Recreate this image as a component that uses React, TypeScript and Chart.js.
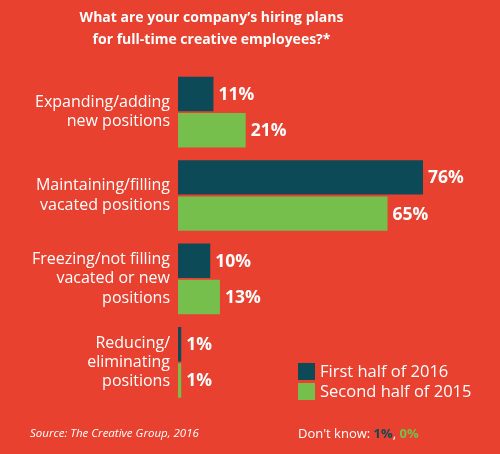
import { Chart, registerables, type Plugin } from 'chart.js';
import { useEffect, useRef } from 'react';

Chart.register(...registerables);

const categories = [
  ['Expanding/adding', 'new positions'],
  ['Maintaining/filling', 'vacated positions'],
  ['Freezing/not filling', 'vacated or new', 'positions'],
  ['Reducing/', 'eliminating', 'positions'],
];
const firstHalf2016 = [11, 76, 10, 1];
const secondHalf2015 = [21, 65, 13, 1];
const seriesNames = ['First half of 2016', 'Second half of 2015'];

const BG = '#E8412F';
const DARK = '#0D4A57';
const GREEN = '#76BF4C';
const FONT = '"Open Sans", sans-serif';

const valueLabels: Plugin<'bar'> = {
  id: 'valueLabels',
  afterDatasetsDraw(chart) {
    const { ctx } = chart;
    ctx.save();
    ctx.fillStyle = '#fff';
    ctx.font = `bold 17.5px ${FONT}`;
    ctx.textBaseline = 'middle';
    chart.data.datasets.forEach((ds, i) => {
      chart.getDatasetMeta(i).data.forEach((bar, j) => {
        ctx.fillText(`${ds.data[j]}%`, bar.x + 5, bar.y + 1);
      });
    });
    ctx.restore();
  },
};

const legendBox: Plugin<'bar'> = {
  id: 'legendBox',
  afterDraw(chart) {
    const { ctx } = chart;
    ctx.save();
    ctx.font = `16.5px ${FONT}`;
    ctx.textBaseline = 'middle';
    [DARK, GREEN].forEach((c, i) => {
      const y = 363 + i * 20;
      ctx.fillStyle = c;
      ctx.fillRect(298, y, 17, 17);
      ctx.fillStyle = '#fff';
      ctx.fillText(seriesNames[i], 320, y + 9);
    });
    ctx.restore();
  },
};

export default function App() {
  const canvasRef = useRef<HTMLCanvasElement>(null);
  const chartRef = useRef<Chart<'bar'> | null>(null);

  useEffect(() => {
    if (!canvasRef.current) return;
    const context = canvasRef.current.getContext('2d');
    if (!context) return;

    chartRef.current = new Chart(context, {
      type: 'bar',
      data: {
        labels: categories,
        datasets: [
          { label: seriesNames[0], data: firstHalf2016, backgroundColor: DARK },
          { label: seriesNames[1], data: secondHalf2015, backgroundColor: GREEN },
        ],
      },
      options: {
        indexAxis: 'y',
        animation: false,
        responsive: false,
        layout: { padding: { top: 2, bottom: 50, right: 77 } },
        datasets: { bar: { categoryPercentage: 0.87, barPercentage: 0.95 } },
        scales: {
          x: { display: false, min: 0, max: 76 },
          y: {
            grid: { display: false },
            border: { display: false },
            ticks: {
              color: '#fff',
              font: { family: FONT, size: 16, lineHeight: 1.2 },
              padding: 0,
            },
            afterFit(scale) {
              scale.width = 178;
            },
          },
        },
        plugins: {
          legend: { display: false },
          tooltip: { enabled: false },
          title: {
            display: true,
            text: ['What are your company\u2019s hiring plans', 'for full-time creative employees?*'],
            color: '#fff',
            font: { family: FONT, size: 14, weight: 'bold', lineHeight: 1.55 },
            padding: { top: 5, bottom: 20 },
          },
        },
      },
      plugins: [valueLabels, legendBox],
    });

    return () => {
      chartRef.current?.destroy();
    };
  }, []);

  return (
    <div style={{ position: 'fixed', top: 0, left: 0, width: 500, height: 454, background: BG, fontFamily: FONT }}>
      <canvas ref={canvasRef} width={500} height={454} />
      <div style={{ position: 'absolute', left: 30, top: 425, fontSize: 11.5, fontStyle: 'italic', color: '#fff' }}>
        Source: The Creative Group, 2016
      </div>
      <div style={{ position: 'absolute', left: 298, top: 424, fontSize: 13, color: '#fff' }}>
        Don't know: <b style={{ color: DARK }}>1%</b>, <b style={{ color: GREEN }}>0%</b>
      </div>
    </div>
  );
}
